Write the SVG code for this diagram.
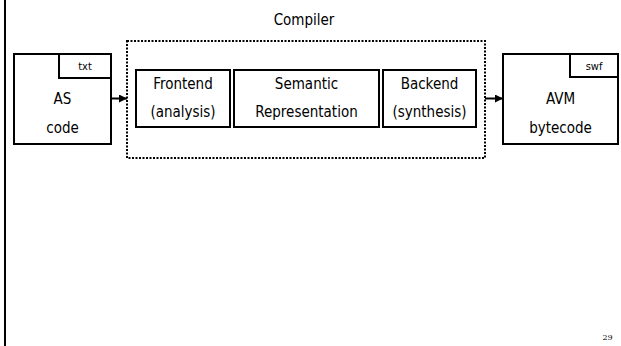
<svg xmlns="http://www.w3.org/2000/svg" width="621" height="346" viewBox="0 0 621 346">
  <defs>
    <style>
      .box { fill: #fff; stroke: #000; stroke-width: 2; }
      .frame { fill: none; stroke: #000; stroke-width: 2; stroke-dasharray: 2 1.5; }
      .link { fill: none; stroke: #000; stroke-width: 2; }
      .t { font-family: "DejaVu Sans Condensed", "DejaVu Sans", sans-serif; font-stretch: condensed; font-size: 15px; fill: #000; text-anchor: middle; }
      .tag { font-size: 11px; }
      .pg { font-family: "DejaVu Serif", "Liberation Serif", serif; font-size: 8px; fill: #000; text-anchor: middle; }
    </style>
    <marker id="arrow" viewBox="0 0 8 8" refX="8" refY="4" markerWidth="8" markerHeight="8" markerUnits="userSpaceOnUse" orient="auto">
      <path d="M0,0 L8,4 L0,8 z" fill="#000"/>
    </marker>
  </defs>

  <rect width="621" height="346" fill="#fff"/>

  <!-- slide margin rule -->
  <line x1="5" y1="0" x2="5" y2="346" stroke="#000" stroke-width="2"/>

  <!-- compiler boundary -->
  <g id="compiler">
    <rect class="frame" x="127" y="41" width="358" height="117"/>
    <text class="t" x="304" y="25">Compiler</text>
  </g>

  <g id="as-code">
    <rect class="box" x="14" y="54" width="97" height="90"/>
    <rect class="box" x="59" y="54" width="52" height="24"/>
    <text class="t tag" x="85" y="70">txt</text>
    <text class="t" x="62.5" y="104">AS</text>
    <text class="t" x="62.5" y="133">code</text>
  </g>

  <g id="frontend">
    <rect class="box" x="136" y="70" width="94" height="57"/>
    <text class="t" x="183" y="88.5">Frontend</text>
    <text class="t" x="183" y="116.5">(analysis)</text>
  </g>

  <g id="semantic">
    <rect class="box" x="234" y="70" width="145" height="57"/>
    <text class="t" x="306.5" y="88.5">Semantic</text>
    <text class="t" x="306.5" y="116.5">Representation</text>
  </g>

  <g id="backend">
    <rect class="box" x="383" y="70" width="93" height="57"/>
    <text class="t" x="429.5" y="88.5">Backend</text>
    <text class="t" x="429.5" y="116.5">(synthesis)</text>
  </g>

  <g id="avm-bytecode">
    <rect class="box" x="503" y="54" width="115" height="90"/>
    <rect class="box" x="570" y="54" width="48" height="23"/>
    <text class="t tag" x="594" y="69.5">swf</text>
    <text class="t" x="560.5" y="104">AVM</text>
    <text class="t" x="560.5" y="133">bytecode</text>
  </g>

  <g id="connectors">
    <line class="link" x1="111" y1="98.5" x2="127" y2="98.5" marker-end="url(#arrow)"/>
    <line class="link" x1="485" y1="98.5" x2="503" y2="98.5" marker-end="url(#arrow)"/>
  </g>

  <text class="pg" x="607.5" y="340">29</text>
</svg>
